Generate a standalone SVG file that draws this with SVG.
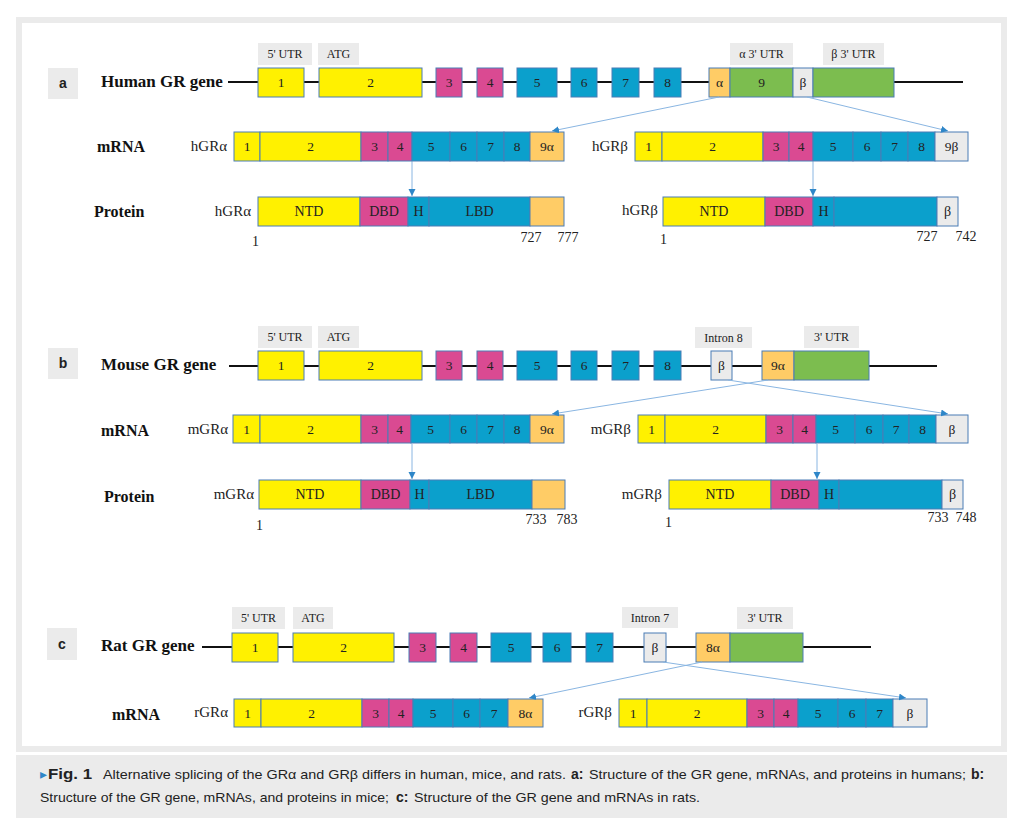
<svg xmlns="http://www.w3.org/2000/svg" width="1020" height="833" viewBox="0 0 1020 833">
<style>
.ex{stroke:#4A7DB5;stroke-width:1}
.y{fill:#FFF100}.p{fill:#DA4A92}.b{fill:#0BA0CC}.o{fill:#FFCC66}.g{fill:#7CBD4F}.w{fill:#EBEBEB}
.lb{fill:#EBEBEB}
.n{font-family:"Liberation Serif",serif;font-size:13.5px;text-anchor:middle;fill:#222}
.d{font-family:"Liberation Serif",serif;font-size:14px;text-anchor:middle;fill:#222}
.s{font-family:"Liberation Serif",serif;font-size:12px;text-anchor:middle;fill:#222}
.t{font-family:"Liberation Serif",serif;font-size:16px;font-weight:bold;fill:#111}
.tg{font-family:"Liberation Serif",serif;font-size:17px;font-weight:bold;fill:#111}
.iso{font-family:"Liberation Serif",serif;font-size:15px;text-anchor:end;fill:#222}
.num{font-family:"Liberation Serif",serif;font-size:14px;fill:#222}
.sec{font-family:"Liberation Sans",Arial,sans-serif;font-size:14px;font-weight:bold;text-anchor:middle;fill:#222}
.gl{stroke:#111;stroke-width:1.8;fill:none}
.cn{stroke:#8AB6E2;stroke-width:1;fill:none}
.cap{font-family:"Liberation Sans",Arial,sans-serif;font-size:13.5px;fill:#222}
.capb{font-family:"Liberation Sans",Arial,sans-serif;font-size:14px;font-weight:bold;fill:#222}
</style>
<defs>
<marker id="ah" markerUnits="userSpaceOnUse" markerWidth="8" markerHeight="8" refX="7" refY="3.5" orient="auto">
<path d="M0,0 L7,3.5 L0,7 z" fill="#2E86C8"/>
</marker>
</defs>
<rect x="16" y="17" width="991" height="735" fill="#EBEBEB"/>
<rect x="22" y="23" width="979" height="723" fill="#FFFFFF"/>
<rect x="16" y="755" width="991" height="63" fill="#EBEBEB"/>

<!-- ===== Section a ===== -->
<g id="sec-a"><rect x="48" y="68" width="30" height="31" class="lb"/><text x="63" y="88" class="sec">a</text></g>
<text x="101" y="87" class="tg" id="t-human">Human  GR gene</text>
<text x="97" y="152" class="t">mRNA</text>
<text x="94" y="217" class="t">Protein</text>
<line x1="228" y1="82" x2="963" y2="82" class="gl"/>
<g id="a-labels">
<rect x="258" y="43" width="54" height="22" class="lb"/><text x="285" y="58" class="s">5' UTR</text>
<rect x="318" y="43" width="41" height="22" class="lb"/><text x="338.5" y="58" class="s">ATG</text>
<rect x="730" y="43" width="63" height="22" class="lb"/><text x="761.5" y="58" class="s">α 3' UTR</text>
<rect x="823" y="43" width="61" height="22" class="lb"/><text x="853.5" y="58" class="s">β 3' UTR</text>
</g>
<g id="a-gene">
<g id="a-e1"><rect x="258" y="68" width="46" height="29" class="ex y"/><text x="281" y="87" class="n">1</text></g>
<g id="a-e2"><rect x="319" y="68" width="103" height="29" class="ex y"/><text x="370.5" y="87" class="n">2</text></g>
<g id="a-e3"><rect x="436" y="68" width="26" height="29" class="ex p"/><text x="449" y="87" class="n">3</text></g>
<g id="a-e4"><rect x="477" y="68" width="26" height="29" class="ex p"/><text x="490" y="87" class="n">4</text></g>
<g id="a-e5"><rect x="517" y="68" width="40" height="29" class="ex b"/><text x="537" y="87" class="n">5</text></g>
<g id="a-e6"><rect x="571" y="68" width="26" height="29" class="ex b"/><text x="584" y="87" class="n">6</text></g>
<g id="a-e7"><rect x="612" y="68" width="27" height="29" class="ex b"/><text x="625.5" y="87" class="n">7</text></g>
<g id="a-e8"><rect x="654" y="68" width="27" height="29" class="ex b"/><text x="667.5" y="87" class="n">8</text></g>
<g id="a-e9"><rect x="709" y="68" width="21" height="29" class="ex o"/><text x="719.5" y="87" class="n">α</text>
<rect x="730" y="68" width="63" height="29" class="ex g"/><text x="761.5" y="87" class="n">9</text>
<rect x="793" y="68" width="20" height="29" class="ex w"/><text x="803" y="87" class="n">β</text>
<rect x="813" y="68" width="81" height="29" class="ex g"/></g>
</g>
<g id="a-mrna-alpha">
<text x="227" y="151" class="iso">hGRα</text>
<rect x="234" y="132" width="26" height="29" class="ex y"/><text x="247" y="151" class="n">1</text>
<rect x="260" y="132" width="101" height="29" class="ex y"/><text x="310.5" y="151" class="n">2</text>
<rect x="361" y="132" width="27" height="29" class="ex p"/><text x="374.5" y="151" class="n">3</text>
<rect x="388" y="132" width="24" height="29" class="ex p"/><text x="400" y="151" class="n">4</text>
<rect x="412" y="132" width="38" height="29" class="ex b"/><text x="431" y="151" class="n">5</text>
<rect x="450" y="132" width="27" height="29" class="ex b"/><text x="463.5" y="151" class="n">6</text>
<rect x="477" y="132" width="27" height="29" class="ex b"/><text x="490.5" y="151" class="n">7</text>
<rect x="504" y="132" width="26" height="29" class="ex b"/><text x="517" y="151" class="n">8</text>
<rect x="530" y="132" width="34" height="29" class="ex o"/><text x="547" y="151" class="n">9α</text>
</g>
<g id="a-mrna-beta">
<text x="628" y="151" class="iso">hGRβ</text>
<rect x="635" y="132" width="27" height="29" class="ex y"/><text x="648.5" y="151" class="n">1</text>
<rect x="662" y="132" width="101" height="29" class="ex y"/><text x="712.5" y="151" class="n">2</text>
<rect x="763" y="132" width="26" height="29" class="ex p"/><text x="776" y="151" class="n">3</text>
<rect x="789" y="132" width="24" height="29" class="ex p"/><text x="801" y="151" class="n">4</text>
<rect x="813" y="132" width="40" height="29" class="ex b"/><text x="833" y="151" class="n">5</text>
<rect x="853" y="132" width="28" height="29" class="ex b"/><text x="867" y="151" class="n">6</text>
<rect x="881" y="132" width="27" height="29" class="ex b"/><text x="894.5" y="151" class="n">7</text>
<rect x="908" y="132" width="27" height="29" class="ex b"/><text x="921.5" y="151" class="n">8</text>
<rect x="935" y="132" width="33" height="29" class="ex w"/><text x="951.5" y="151" class="n">9β</text>
</g>
<g id="a-prot-alpha">
<text x="251" y="216" class="iso">hGRα</text>
<rect x="258" y="197" width="102" height="29" class="ex y"/><text x="309" y="216" class="d">NTD</text>
<rect x="360" y="197" width="48" height="29" class="ex p"/><text x="384" y="216" class="d">DBD</text>
<rect x="408" y="197" width="21" height="29" class="ex b"/><text x="418.5" y="216" class="d">H</text>
<rect x="429" y="197" width="101" height="29" class="ex b"/><text x="479.5" y="216" class="d">LBD</text>
<rect x="530" y="197" width="34" height="29" class="ex o"/>
<text x="252" y="246" class="num">1</text><text x="531" y="242" class="num" text-anchor="middle">727</text><text x="568" y="242" class="num" text-anchor="middle">777</text>
</g>
<g id="a-prot-beta">
<text x="658" y="215" class="iso">hGRβ</text>
<rect x="663" y="197" width="102" height="29" class="ex y"/><text x="714" y="216" class="d">NTD</text>
<rect x="765" y="197" width="48" height="29" class="ex p"/><text x="789" y="216" class="d">DBD</text>
<rect x="813" y="197" width="21" height="29" class="ex b"/><text x="823.5" y="216" class="d">H</text>
<rect x="834" y="197" width="103" height="29" class="ex b"/>
<rect x="937" y="197" width="21" height="29" class="ex w"/><text x="947.5" y="216" class="d">β</text>
<text x="660" y="244" class="num">1</text><text x="927" y="241" class="num" text-anchor="middle">727</text><text x="966" y="241" class="num" text-anchor="middle">742</text>
</g>

<!-- ===== Section b ===== -->
<g id="sec-b"><rect x="48" y="348" width="30" height="31" class="lb"/><text x="63" y="368" class="sec">b</text></g>
<text x="101" y="370" class="tg">Mouse  GR gene</text>
<text x="101" y="436" class="t">mRNA</text>
<text x="104" y="502" class="t">Protein</text>
<line x1="229" y1="366" x2="937" y2="366" class="gl"/>
<g id="b-labels">
<rect x="258" y="326" width="54" height="22" class="lb"/><text x="285" y="341" class="s">5' UTR</text>
<rect x="318" y="326" width="41" height="22" class="lb"/><text x="338.5" y="341" class="s">ATG</text>
<rect x="695" y="327" width="57" height="21" class="lb"/><text x="723.5" y="342" class="s">Intron 8</text>
<rect x="804" y="326" width="55" height="22" class="lb"/><text x="831.5" y="341" class="s">3' UTR</text>
</g>
<g id="b-gene">
<g id="b-e1"><rect x="258" y="351" width="46" height="29" class="ex y"/><text x="281" y="370" class="n">1</text></g>
<g id="b-e2"><rect x="319" y="351" width="103" height="29" class="ex y"/><text x="370.5" y="370" class="n">2</text></g>
<g id="b-e3"><rect x="436" y="351" width="26" height="29" class="ex p"/><text x="449" y="370" class="n">3</text></g>
<g id="b-e4"><rect x="477" y="351" width="26" height="29" class="ex p"/><text x="490" y="370" class="n">4</text></g>
<g id="b-e5"><rect x="517" y="351" width="40" height="29" class="ex b"/><text x="537" y="370" class="n">5</text></g>
<g id="b-e6"><rect x="571" y="351" width="26" height="29" class="ex b"/><text x="584" y="370" class="n">6</text></g>
<g id="b-e7"><rect x="612" y="351" width="27" height="29" class="ex b"/><text x="625.5" y="370" class="n">7</text></g>
<g id="b-e8"><rect x="654" y="351" width="27" height="29" class="ex b"/><text x="667.5" y="370" class="n">8</text></g>
<g id="b-beta"><rect x="711" y="351" width="21" height="29" class="ex w"/><text x="721.5" y="370" class="n">β</text></g>
<g id="b-e9"><rect x="762" y="351" width="32" height="29" class="ex o"/><text x="778" y="370" class="n">9α</text>
<rect x="794" y="351" width="75" height="29" class="ex g"/></g>
</g>
<g id="b-mrna-alpha">
<text x="228" y="434" class="iso">mGRα</text>
<rect x="233" y="415" width="27" height="28" class="ex y"/><text x="246.5" y="434" class="n">1</text>
<rect x="260" y="415" width="101" height="28" class="ex y"/><text x="310.5" y="434" class="n">2</text>
<rect x="361" y="415" width="27" height="28" class="ex p"/><text x="374.5" y="434" class="n">3</text>
<rect x="388" y="415" width="23" height="28" class="ex p"/><text x="399.5" y="434" class="n">4</text>
<rect x="411" y="415" width="39" height="28" class="ex b"/><text x="430.5" y="434" class="n">5</text>
<rect x="450" y="415" width="27" height="28" class="ex b"/><text x="463.5" y="434" class="n">6</text>
<rect x="477" y="415" width="27" height="28" class="ex b"/><text x="490.5" y="434" class="n">7</text>
<rect x="504" y="415" width="26" height="28" class="ex b"/><text x="517" y="434" class="n">8</text>
<rect x="530" y="415" width="34" height="28" class="ex o"/><text x="547" y="434" class="n">9α</text>
</g>
<g id="b-mrna-beta">
<text x="631" y="434" class="iso">mGRβ</text>
<rect x="638" y="415" width="27" height="28" class="ex y"/><text x="651.5" y="434" class="n">1</text>
<rect x="665" y="415" width="101" height="28" class="ex y"/><text x="715.5" y="434" class="n">2</text>
<rect x="766" y="415" width="27" height="28" class="ex p"/><text x="779.5" y="434" class="n">3</text>
<rect x="793" y="415" width="23" height="28" class="ex p"/><text x="804.5" y="434" class="n">4</text>
<rect x="816" y="415" width="39" height="28" class="ex b"/><text x="835.5" y="434" class="n">5</text>
<rect x="855" y="415" width="28" height="28" class="ex b"/><text x="869" y="434" class="n">6</text>
<rect x="883" y="415" width="26" height="28" class="ex b"/><text x="896" y="434" class="n">7</text>
<rect x="909" y="415" width="27" height="28" class="ex b"/><text x="922.5" y="434" class="n">8</text>
<rect x="936" y="415" width="32" height="28" class="ex w"/><text x="952" y="434" class="n">β</text>
</g>
<g id="b-prot-alpha">
<text x="254" y="499" class="iso">mGRα</text>
<rect x="259" y="480" width="102" height="29" class="ex y"/><text x="310" y="499" class="d">NTD</text>
<rect x="361" y="480" width="49" height="29" class="ex p"/><text x="385.5" y="499" class="d">DBD</text>
<rect x="410" y="480" width="19" height="29" class="ex b"/><text x="419.5" y="499" class="d">H</text>
<rect x="429" y="480" width="103" height="29" class="ex b"/><text x="480.5" y="499" class="d">LBD</text>
<rect x="532" y="480" width="33" height="29" class="ex o"/>
<text x="256" y="530" class="num">1</text><text x="536" y="524" class="num" text-anchor="middle">733</text><text x="567" y="524" class="num" text-anchor="middle">783</text>
</g>
<g id="b-prot-beta">
<text x="662" y="499" class="iso">mGRβ</text>
<rect x="669" y="480" width="102" height="29" class="ex y"/><text x="720" y="499" class="d">NTD</text>
<rect x="771" y="480" width="48" height="29" class="ex p"/><text x="795" y="499" class="d">DBD</text>
<rect x="819" y="480" width="20" height="29" class="ex b"/><text x="829" y="499" class="d">H</text>
<rect x="839" y="480" width="103" height="29" class="ex b"/>
<rect x="942" y="480" width="21" height="29" class="ex w"/><text x="952.5" y="499" class="d">β</text>
<text x="665" y="527" class="num">1</text><text x="938" y="522" class="num" text-anchor="middle">733</text><text x="966" y="522" class="num" text-anchor="middle">748</text>
</g>

<!-- ===== Section c ===== -->
<g id="sec-c"><rect x="47" y="628" width="30" height="32" class="lb"/><text x="62" y="649" class="sec">c</text></g>
<text x="101" y="651" class="tg">Rat GR gene</text>
<text x="112" y="720" class="t">mRNA</text>
<line x1="202" y1="647" x2="871" y2="647" class="gl"/>
<g id="c-labels">
<rect x="232" y="607" width="53" height="22" class="lb"/><text x="258.5" y="622" class="s">5' UTR</text>
<rect x="293" y="607" width="40" height="22" class="lb"/><text x="313" y="622" class="s">ATG</text>
<rect x="622" y="607" width="56" height="21" class="lb"/><text x="650" y="622" class="s">Intron 7</text>
<rect x="737" y="607" width="56" height="22" class="lb"/><text x="765" y="622" class="s">3' UTR</text>
</g>
<g id="c-gene">
<g id="c-e1"><rect x="232" y="633" width="46" height="29" class="ex y"/><text x="255" y="652" class="n">1</text></g>
<g id="c-e2"><rect x="293" y="633" width="101" height="29" class="ex y"/><text x="343.5" y="652" class="n">2</text></g>
<g id="c-e3"><rect x="409" y="633" width="27" height="29" class="ex p"/><text x="422.5" y="652" class="n">3</text></g>
<g id="c-e4"><rect x="450" y="633" width="27" height="29" class="ex p"/><text x="463.5" y="652" class="n">4</text></g>
<g id="c-e5"><rect x="491" y="633" width="40" height="29" class="ex b"/><text x="511" y="652" class="n">5</text></g>
<g id="c-e6"><rect x="543" y="633" width="28" height="29" class="ex b"/><text x="557" y="652" class="n">6</text></g>
<g id="c-e7"><rect x="586" y="633" width="27" height="29" class="ex b"/><text x="599.5" y="652" class="n">7</text></g>
<g id="c-beta"><rect x="644" y="633" width="22" height="29" class="ex w"/><text x="655" y="652" class="n">β</text></g>
<g id="c-e8"><rect x="696" y="633" width="34" height="29" class="ex o"/><text x="713" y="652" class="n">8α</text>
<rect x="730" y="633" width="73" height="29" class="ex g"/></g>
</g>
<g id="c-mrna-alpha">
<text x="228" y="717" class="iso">rGRα</text>
<rect x="234" y="699" width="27" height="28" class="ex y"/><text x="247.5" y="718" class="n">1</text>
<rect x="261" y="699" width="101" height="28" class="ex y"/><text x="311.5" y="718" class="n">2</text>
<rect x="362" y="699" width="27" height="28" class="ex p"/><text x="375.5" y="718" class="n">3</text>
<rect x="389" y="699" width="24" height="28" class="ex p"/><text x="401" y="718" class="n">4</text>
<rect x="413" y="699" width="40" height="28" class="ex b"/><text x="433" y="718" class="n">5</text>
<rect x="453" y="699" width="27" height="28" class="ex b"/><text x="466.5" y="718" class="n">6</text>
<rect x="480" y="699" width="28" height="28" class="ex b"/><text x="494" y="718" class="n">7</text>
<rect x="508" y="699" width="35" height="28" class="ex o"/><text x="525.5" y="718" class="n">8α</text>
</g>
<g id="c-mrna-beta">
<text x="612" y="717" class="iso">rGRβ</text>
<rect x="619" y="699" width="28" height="28" class="ex y"/><text x="633" y="718" class="n">1</text>
<rect x="647" y="699" width="100" height="28" class="ex y"/><text x="697" y="718" class="n">2</text>
<rect x="747" y="699" width="27" height="28" class="ex p"/><text x="760.5" y="718" class="n">3</text>
<rect x="774" y="699" width="24" height="28" class="ex p"/><text x="786" y="718" class="n">4</text>
<rect x="798" y="699" width="40" height="28" class="ex b"/><text x="818" y="718" class="n">5</text>
<rect x="838" y="699" width="28" height="28" class="ex b"/><text x="852" y="718" class="n">6</text>
<rect x="866" y="699" width="27" height="28" class="ex b"/><text x="879.5" y="718" class="n">7</text>
<rect x="893" y="699" width="34" height="28" class="ex w"/><text x="910" y="718" class="n">β</text>
</g>

<!-- ===== Connectors ===== -->
<g id="connectors">
<line x1="719" y1="97" x2="552" y2="131" class="cn" marker-end="url(#ah)"/>
<line x1="807" y1="97" x2="948" y2="131" class="cn" marker-end="url(#ah)"/>
<line x1="412" y1="162" x2="412" y2="196" class="cn" marker-end="url(#ah)"/>
<line x1="813" y1="162" x2="813" y2="196" class="cn" marker-end="url(#ah)"/>
<line x1="768" y1="380" x2="552" y2="414" class="cn" marker-end="url(#ah)"/>
<line x1="728" y1="380" x2="948" y2="414" class="cn" marker-end="url(#ah)"/>
<line x1="412" y1="444" x2="412" y2="479" class="cn" marker-end="url(#ah)"/>
<line x1="817" y1="444" x2="817" y2="479" class="cn" marker-end="url(#ah)"/>
<line x1="702" y1="662" x2="529" y2="698" class="cn" marker-end="url(#ah)"/>
<line x1="663" y1="662" x2="906" y2="698" class="cn" marker-end="url(#ah)"/>
</g>

<!-- ===== Caption ===== -->
<g id="caption">
<text x="40" y="779" class="cap" style="fill:#2E86C8">▸</text>
<text x="48" y="779" class="capb" textLength="44" lengthAdjust="spacingAndGlyphs">Fig. 1</text>
<text x="103" y="779" class="cap" textLength="463" lengthAdjust="spacingAndGlyphs">Alternative splicing of the GRα and GRβ differs in human, mice, and rats.</text>
<text x="571" y="779" class="capb">a:</text>
<text x="589" y="779" class="cap" textLength="377" lengthAdjust="spacingAndGlyphs">Structure of the GR gene, mRNAs, and proteins in humans;</text>
<text x="971" y="779" class="capb">b:</text>
<text x="40" y="802" class="cap" textLength="349" lengthAdjust="spacingAndGlyphs">Structure of the GR gene, mRNAs, and proteins in mice;</text>
<text x="396" y="802" class="capb">c:</text>
<text x="414" y="802" class="cap" textLength="286" lengthAdjust="spacingAndGlyphs">Structure of the GR gene and mRNAs in rats.</text>
</g>
</svg>
